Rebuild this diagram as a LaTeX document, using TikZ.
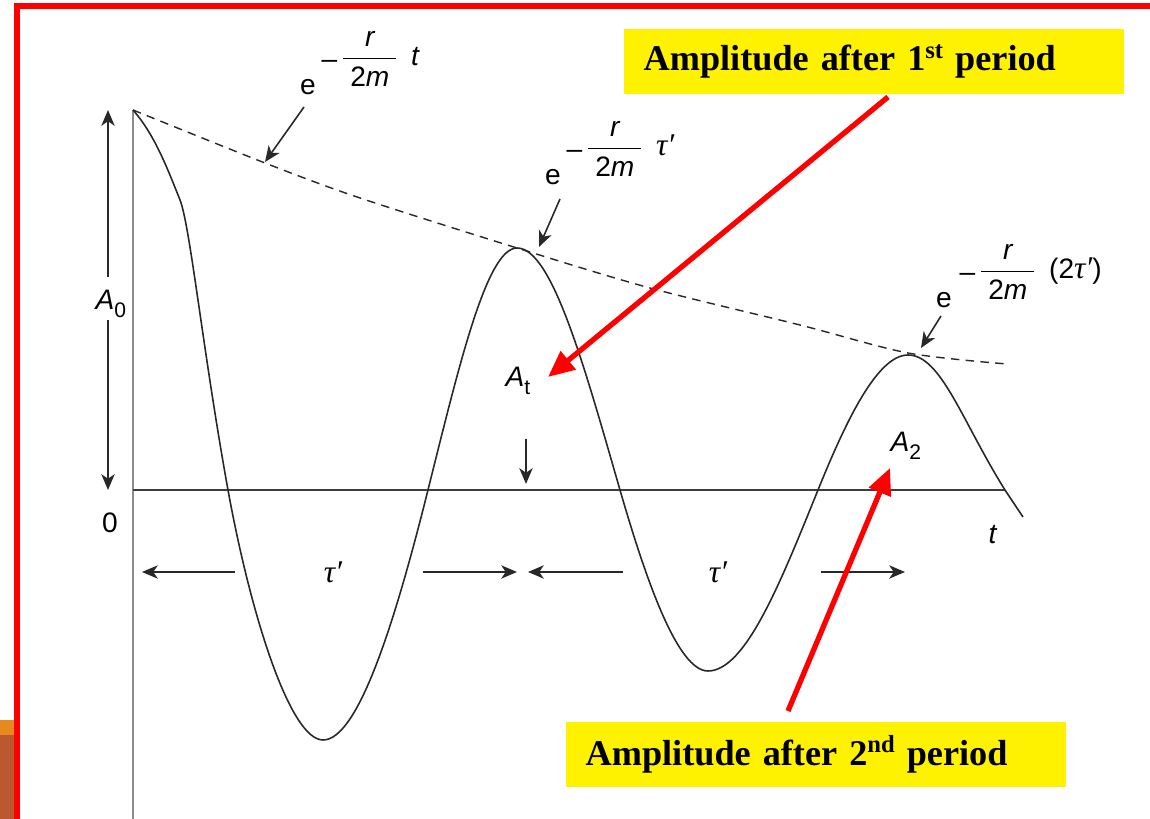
\documentclass[tikz,border=0pt]{standalone}
\usepackage{fontspec}
\setmainfont{Liberation Sans}
\newfontfamily\timesfont{Liberation Serif}
\usetikzlibrary{arrows.meta}
\definecolor{frame}{RGB}{255,0,0}
\definecolor{orng}{RGB}{230,138,30}
\definecolor{brwn}{RGB}{186,88,48}
\definecolor{axisgray}{RGB}{140,140,140}
\definecolor{ink}{RGB}{40,40,40}
\newcommand{\taup}{{\timesfont\itshape\fontsize{9}{10}\selectfont τ′}}
\newcommand{\myfrac}{$\displaystyle\mbox{\raisebox{-0.8pt}{–}}\mkern1mu\frac{\mbox{\itshape r}}{\mbox{\hspace{2pt}2\itshape m\hspace{2pt}}}$}
\newcommand{\supx}[1]{\raisebox{0.75ex}{\fontsize{7}{7}\selectfont #1}}
\begin{document}
\begin{tikzpicture}[x=0.01cm,y=-0.01cm,
  lbl/.style={inner sep=0pt, font=\fontsize{8}{9.6}\selectfont},
  blk/.style={draw=ink, line width=0.45pt, -{Stealth[length=4.5pt,width=3.8pt,inset=1.3pt]}},
  redarrow/.style={draw=red, line width=1.5pt, -{Triangle[length=7.5pt,width=6.5pt]}},
  ybox/.style={fill=yellow, minimum width=4.97cm, minimum height=0.65cm,
    text width=4.6cm, align=left, inner xsep=0.2cm, inner ysep=0pt,
    font=\timesfont\bfseries\fontsize{10.3}{12}\selectfont},
  wave/.style={draw=ink, line width=0.45pt},
  env/.style={draw=ink, line width=0.4pt, dash pattern=on 2.4pt off 1.8pt}]

\useasboundingbox (0,0) rectangle (1150,819);
\fill[white] (0,0) rectangle (1150,819);

% frame and side strip
\fill[orng] (0,720) rectangle (14,735);
\fill[brwn] (0,735) rectangle (14,819);
\draw[frame, line width=1.7pt] (17,819) -- (17,6) -- (1150,6);

% axes
\draw[axisgray, line width=0.6pt] (133,110) -- (133,819);
\draw[ink!90, line width=0.45pt] (133,490) -- (1005,490);

% envelope
\draw[env] plot[smooth] coordinates {(133,110) (265,163) (360,198) (517,248) (650,288) (800,325) (908,353) (1007,364)};

% damped oscillation
\draw[wave] (133,110) .. controls (155,135) and (168,170) .. (180,200)
 .. controls (190,225) and (203,352) .. (228,490)
 .. controls (251.3,618) and (290.7,740) .. (323,740)
 .. controls (358.7,740) and (396,618) .. (428,490)
 .. controls (459,366) and (486.7,248) .. (517,248)
 .. controls (552,248) and (584.2,366) .. (620,490)
 .. controls (646.8,582.7) and (678.1,671) .. (708,671)
 .. controls (745.4,671) and (780.5,582.7) .. (818,490)
 .. controls (846,420.9) and (877.4,355) .. (908,355)
 .. controls (941,355) and (961.8,420.9) .. (1005,490)
 -- (1023,517);

% labels
\node[lbl] (e1) at (308,87) {e};
\node[lbl, anchor=west] (x1) at (321,59) {\myfrac\hspace{3pt}\textit{t}};
\node[lbl] (e2) at (553,177) {e};
\node[lbl, anchor=west] (x2) at (566,149) {\myfrac\hspace{3pt}\taup};
\node[lbl] (e3) at (944,300) {e};
\node[lbl, anchor=west] (x3) at (959,272) {\myfrac\hspace{3pt}(2\taup)};

\node[lbl, anchor=base west] (A0) at (95,310) {\textit{A}\raisebox{-2.2pt}{\fontsize{6}{6}\selectfont 0}};
\node[lbl] (zero) at (110,523) {0};
\node[lbl, anchor=base west] (At) at (505,387) {\textit{A}\raisebox{-2.2pt}{\fontsize{6}{6}\selectfont t}};
\node[lbl, anchor=base west] (A2) at (890,452) {\textit{A}\raisebox{-2.2pt}{\fontsize{6}{6}\selectfont 2}};
\node[lbl] (tlbl) at (993,535) {\textit{t}};
\node[lbl] (tau1) at (333,572) {\taup};
\node[lbl] (tau2) at (718,572) {\taup};

% pointer arrows
\coordinate (p1s) at (304,107); \coordinate (p1e) at (265,162);
\coordinate (p2s) at (560,199); \coordinate (p2e) at (539,247);
\coordinate (p3s) at (941,316); \coordinate (p3e) at (921,348);
\draw[blk] (p1s) -- (p1e);
\draw[blk] (p2s) -- (p2e);
\draw[blk] (p3s) -- (p3e);

% A0 arrows
\coordinate (a0us) at (108,277); \coordinate (a0ue) at (108,110);
\coordinate (a0ds) at (108,320); \coordinate (a0de) at (108,490);
\draw[blk] (a0us) -- (a0ue);
\draw[blk] (a0ds) -- (a0de);

% At arrow
\coordinate (ats) at (526,439); \coordinate (ate) at (526,484);
\draw[blk] (ats) -- (ate);

% period arrows
\coordinate (q1s) at (235,572); \coordinate (q1e) at (142,572);
\coordinate (q2s) at (423,572); \coordinate (q2e) at (517,572);
\coordinate (q3s) at (623,572); \coordinate (q3e) at (528,572);
\coordinate (q4s) at (821,572); \coordinate (q4e) at (905,572);
\draw[blk] (q1s) -- (q1e);
\draw[blk] (q2s) -- (q2e);
\draw[blk] (q3s) -- (q3e);
\draw[blk] (q4s) -- (q4e);

% yellow boxes
\node[ybox, anchor=north west] (box1) at (623,28) {Amplitude after 1\supx{st} period};
\node[ybox, anchor=north west] (box2) at (565,721) {Amplitude after 2\supx{nd} period};

% red arrows
\coordinate (r1s) at (888,97); \coordinate (r1e) at (548,377);
\coordinate (r2s) at (788,711); \coordinate (r2e) at (890,468);
\draw[redarrow] (r1s) -- (r1e);
\draw[redarrow] (r2s) -- (r2e);
\end{tikzpicture}
\end{document}
